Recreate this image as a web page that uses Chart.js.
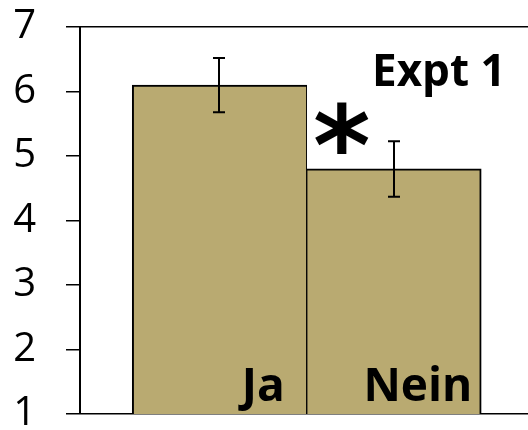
<!DOCTYPE html>
<html>
<head>
<meta charset="utf-8">
<script src="https://cdn.jsdelivr.net/npm/chart.js@4.4.1/dist/chart.umd.min.js"></script>
<style>
  html, body { margin: 0; padding: 0; background: #fff; overflow: hidden; }
  #wrap { width: 528px; height: 430px; }
</style>
</head>
<body>
<div id="wrap"><canvas id="c" width="528" height="430"></canvas></div>
<script>
// Mean rating per answer group, with the half-length of each error bar
const categories = ['Ja', 'Nein'];
const means = [6.1, 4.8];
const errors = [0.42, 0.43];
const yTicks = [1, 2, 3, 4, 5, 6, 7];
const panelTitle = 'Expt 1';
const significanceMark = '*';

const BAR_FILL = '#B9AA71';
const INK = '#000000';

// Error bars, in-bar category names, panel title and significance star
const annotations = {
  id: 'annotations',
  afterDatasetsDraw(chart, args, opts) {
    const { ctx } = chart;
    const y = chart.scales.y;
    const meta = chart.getDatasetMeta(0);
    ctx.save();

    // error bars with short caps
    ctx.strokeStyle = INK;
    ctx.lineWidth = opts.errorWidth;
    meta.data.forEach((bar, i) => {
      const top = y.getPixelForValue(means[i] + errors[i]);
      const bottom = y.getPixelForValue(means[i] - errors[i]);
      const x = Math.round(bar.x);
      ctx.beginPath();
      ctx.moveTo(x, top); ctx.lineTo(x, bottom);
      ctx.moveTo(x - opts.capHalf, top); ctx.lineTo(x + opts.capHalf, top);
      ctx.moveTo(x - opts.capHalf, bottom); ctx.lineTo(x + opts.capHalf, bottom);
      ctx.stroke();
    });

    // category names inside the bars, bottom-right
    ctx.fillStyle = INK;
    ctx.font = opts.labelFont;
    ctx.textAlign = 'right';
    ctx.textBaseline = 'alphabetic';
    meta.data.forEach((bar, i) => {
      const right = bar.x + bar.width / 2 - opts.labelInset[i];
      ctx.fillText(categories[i], right, y.getPixelForValue(1) - opts.labelLift);
    });

    // panel title at top right
    ctx.font = opts.titleFont;
    ctx.textAlign = 'left';
    ctx.fillText(panelTitle, opts.titleX, opts.titleBaseline);

    // significance star above the boundary of the two bars
    const nein = meta.data[1];
    ctx.font = opts.starFont;
    ctx.textAlign = 'center';
    ctx.textBaseline = 'middle';
    ctx.fillText(significanceMark, nein.x - nein.width / 2 + opts.starDx, opts.starY);

    ctx.restore();
  }
};

new Chart(document.getElementById('c'), {
  type: 'bar',
  data: {
    datasets: [{
      data: categories.map((c, i) => ({ x: i + 1, y: means[i] })),
      backgroundColor: BAR_FILL,
      borderColor: INK,
      borderSkipped: 'bottom',
      borderWidth: (ctx) => ctx.dataIndex === 0
        ? { top: 2, left: 2, right: 1, bottom: 0 }
        : { top: 2, left: 1, right: 2, bottom: 0 },
      barThickness: 174.5
    }]
  },
  options: {
    responsive: false,
    devicePixelRatio: 1,
    animation: false,
    layout: { padding: { top: 27, bottom: 16, left: 0, right: 0 } },
    plugins: {
      legend: { display: false },
      tooltip: { enabled: false },
      annotations: {
        errorWidth: 2,
        capHalf: 6,
        labelFont: 'bold 46px "Open Sans"',
        labelInset: [22, 9],
        labelLift: 13,
        titleFont: 'bold 44px "Open Sans"',
        titleX: 372,
        titleBaseline: 86,
        starFont: 'bold 110px "DejaVu Sans"',
        starDx: 35,
        starY: 156
      }
    },
    scales: {
      x: {
        type: 'linear',
        display: false,
        offset: false,
        min: 0.2006,
        max: 2.768
      },
      y: {
        min: 1,
        max: 7,
        z: 1,
        afterBuildTicks: (s) => { s.ticks = yTicks.map(v => ({ value: v })); },
        afterFit: (s) => { s.width = 80; s.paddingTop = 0; s.paddingBottom = 0; },
        border: { color: INK, width: 2 },
        grid: {
          drawOnChartArea: true,
          color: (ctx) => (ctx.tick && (ctx.tick.value === 1 || ctx.tick.value === 7)) ? INK : 'rgba(0,0,0,0)',
          tickColor: INK,
          tickLength: 14,
          lineWidth: 1.5
        },
        ticks: {
          color: INK,
          padding: 30,
          font: { family: '"Open Sans"', size: 40 }
        }
      }
    }
  },
  plugins: [annotations]
});
</script>
</body>
</html>
